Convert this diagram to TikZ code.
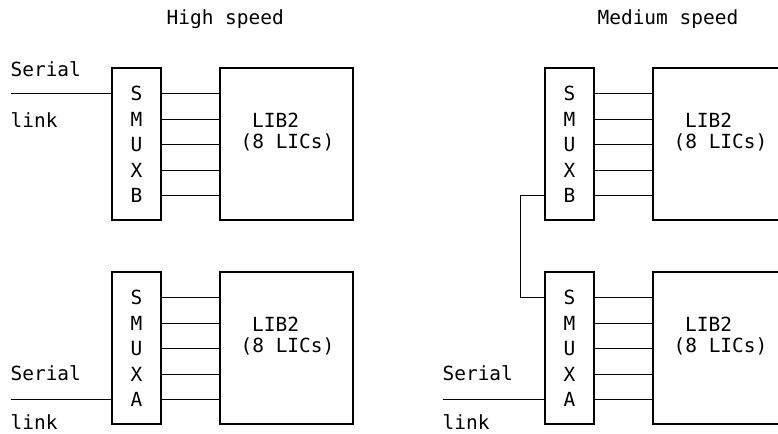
\documentclass[tikz,border=0pt]{standalone}
\usepackage{fontspec}
\setmonofont{DejaVu Sans Mono}

\begin{document}
\begin{tikzpicture}[x=0.75pt, y=-0.75pt, line width=0.9pt,
    txt/.style={font=\ttfamily\fontsize{14.6}{17}\selectfont, inner sep=0pt, anchor=base west},
    letter/.style={font=\ttfamily\fontsize{14.6}{17}\selectfont, inner sep=0pt},
    smuxbox/.style={draw, minimum width={49*0.75pt}, minimum height={152*0.75pt}, inner sep=0pt},
    libbox/.style={draw, minimum width={133*0.75pt}, minimum height={152*0.75pt}, inner sep=0pt}]

  \useasboundingbox (0,0) rectangle (778,434);
  \clip (0,0) rectangle (778,434);

  %--- Titles ---
  \node[txt] (titleH) at (166,25) {High speed};
  \node[txt] (titleM) at (597,25) {Medium speed};

  %--- SMUX + LIB2 pairs (h = high speed, m = medium speed) ---
  \foreach \nm/\cx/\cy/\tag in {hB/136.5/144/B, hA/136.5/348/A, mB/569.5/144/B, mA/569.5/348/A} {
    \node[smuxbox] (smux\nm) at (\cx,\cy) {};
    \node[libbox]  (lib\nm)  at ({\cx+150},\cy) {};
    \foreach \ch/\dy [count=\i] in {S/0,M/26,U/51,X/77,\tag/102} {
      \node[letter] (row\nm\i) at (\cx,{\cy-50.5+\dy}) {\ch};
      \draw (row\nm\i -| smux\nm.east) -- (row\nm\i -| lib\nm.west);
    }
    \node[txt] (libtxt\nm a) at ({\cx+115},{\cy-16})  {LIB2};
    \node[txt] (libtxt\nm b) at ({\cx+103.5},{\cy+4.5}) {(8 LICs)};
  }

  %--- Serial links ---
  \coordinate (linkhB) at (10.7,93.5);
  \coordinate (linkhA) at (10.7,399.5);
  \coordinate (linkmA) at (442.7,399.5);
  \draw (linkhB) -- (rowhB1 -| smuxhB.west);
  \draw (linkhA) -- (rowhA5 -| smuxhA.west);
  \draw (linkmA) -- (rowmA5 -| smuxmA.west);

  \node[txt] (serialhB) at (10,77)  {Serial};
  \node[txt] (lnkhB)    at (10,128) {link};
  \node[txt] (serialhA) at (10,381) {Serial};
  \node[txt] (lnkhA)    at (10,430) {link};
  \node[txt] (serialmA) at (442,381) {Serial};
  \node[txt] (lnkmA)    at (442,430) {link};

  %--- Medium speed: SMUX B chained to SMUX A ---
  \draw (rowmB5 -| smuxmB.west) -- ++(-24.3,0) |- (rowmA1 -| smuxmA.west);

\end{tikzpicture}
\end{document}
